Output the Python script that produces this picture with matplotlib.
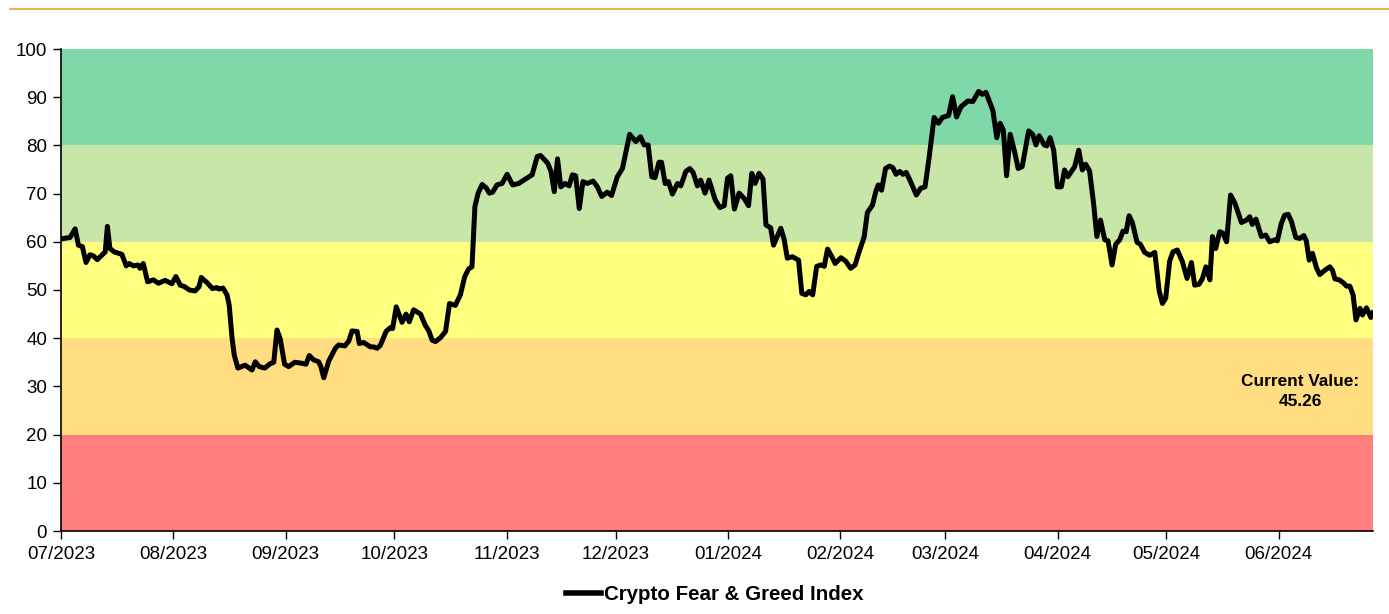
import matplotlib
matplotlib.use("Agg")
import matplotlib.pyplot as plt
import matplotlib.dates as mdates
from matplotlib.lines import Line2D
import pandas as pd

plt.rcParams['font.family'] = ['Liberation Sans', 'DejaVu Sans']

start_date = "2023-07-01"
end_date = "2024-06-27"

# day offsets from start_date
day_offsets = [
    0, 2.5, 3.9, 4.8, 5.9, 6.9, 8.0, 8.9, 10.0, 12.2, 12.8, 13.5, 14.7, 16.8, 18.0, 18.8,
    20.0, 21.2, 21.8, 22.7, 23.9, 25.5, 26.9, 28.7, 30.6, 31.7, 32.9, 34.1, 35.4, 37.0,
    38.1, 38.7, 40.2, 41.8, 43.0, 43.6, 44.7, 45.8, 46.4, 47.2, 47.8, 48.8, 50.8, 52.7,
    53.6, 54.7, 56.2, 57.7, 58.7, 59.6, 60.5, 61.7, 62.8, 64.5, 66.5, 67.6, 68.5, 69.7,
    71.1, 71.7, 72.5, 73.9, 75.7, 76.6, 78.3, 79.4, 80.3, 81.7, 82.3, 83.5, 85.4, 86.3,
    87.2, 88.1, 89.7, 90.9, 91.5, 92.5, 94.1, 95.2, 96.1, 97.3, 99.2, 100.5, 101.5,
    102.4, 103.3, 104.7, 106.1, 107.2, 108.8, 110.2, 111.4, 112.5, 113.4, 114.2, 115.1,
    116.2, 117.3, 118.2, 119.1, 120.3, 121.7, 123.1, 124.6, 126.3, 127.7, 130.0, 131.4,
    132.3, 134.3, 135.2, 136.1, 137.0, 137.9, 139.1, 140.2, 141.1, 142.0, 143.0, 144.0,
    145.2, 146.8, 148.0, 149.2, 150.7, 151.9, 153.5, 154.9, 156.9, 158.6, 159.9, 160.9,
    162.0, 163.0, 163.9, 165.0, 165.7, 166.7, 167.6, 168.7, 170.1, 171.0, 172.4, 173.5,
    174.4, 175.6, 176.5, 177.7, 178.8, 180.5, 181.8, 183.0, 183.9, 184.8, 185.8, 187.1,
    188.5, 189.7, 190.6, 191.5, 192.6, 193.7, 194.5, 195.8, 196.6, 197.2, 198.6, 199.5,
    200.4, 201.8, 203.5, 204.4, 205.5, 206.4, 207.4, 208.5, 209.7, 210.6, 211.5, 212.7,
    213.6, 215.2, 216.5, 217.9, 219.1, 220.2, 221.6, 222.5, 223.9, 224.8, 225.5, 226.4,
    227.5, 228.6, 229.5, 230.4, 231.4, 232.3, 233.2, 234.4, 236.0, 237.2, 238.4, 239.5,
    240.9, 242.1, 243.2, 244.9, 246.0, 247.1, 248.3, 250.2, 251.6, 253.2, 254.2, 255.2,
    257.1, 258.2, 259.1, 260.0, 260.9, 261.9, 263.1, 264.1, 265.2, 267.0, 268.1, 269.0,
    269.9, 271.3, 272.0, 272.9, 273.9, 274.9, 276.0, 276.9, 277.8, 279.7, 280.8, 281.8,
    282.7, 283.8, 284.9, 285.8, 286.8, 288.0, 288.9, 290.0, 291.0, 292.1, 293.0, 293.9,
    294.7, 295.6, 296.9, 297.8, 299.0, 300.4, 301.8, 303.0, 303.9, 304.8, 305.9, 306.8,
    308.0, 309.4, 310.7, 311.9, 312.8, 314.0, 314.9, 315.9, 317.0, 317.7, 318.6, 319.7,
    320.6, 321.6, 322.7, 323.9, 325.7, 327.1, 328.0, 328.7, 329.7, 331.2, 332.4, 333.5,
    334.9, 335.6, 336.7, 337.6, 338.6, 339.5, 340.7, 341.8, 342.9, 343.6, 344.4, 345.3,
    346.4, 347.3, 348.7, 350.1, 350.8, 351.5, 352.7, 353.8, 354.7, 355.6, 356.5, 357.3,
    358.4, 359.1, 360.2, 361.4, 362.0,
]

index_values = [
    60.6, 60.9, 62.7, 59.3, 59.0, 55.7, 57.3, 57.1, 56.3, 57.9, 63.2, 58.6, 57.9, 57.4, 55.0, 55.5,
    55.0, 55.2, 54.5, 55.5, 51.7, 52.1, 51.4, 52.0, 51.3, 52.8, 51.0, 50.7, 50.0, 49.8,
    50.7, 52.6, 51.6, 50.3, 50.5, 50.2, 50.4, 49.0, 46.9, 40.0, 36.5, 33.8, 34.4, 33.4,
    35.1, 34.1, 33.8, 34.7, 35.0, 41.7, 39.8, 34.6, 34.1, 35.0, 34.8, 34.6, 36.4, 35.5,
    35.1, 34.1, 31.8, 35.3, 37.9, 38.6, 38.4, 39.4, 41.5, 41.4, 38.9, 39.1, 38.2, 38.2,
    37.9, 38.5, 41.4, 42.2, 42.0, 46.5, 43.3, 45.0, 43.4, 45.9, 45.0, 42.7, 41.5,
    39.6, 39.3, 40.1, 41.4, 47.2, 46.8, 49.0, 52.8, 54.4, 54.8, 67.3, 70.1,
    71.9, 71.2, 70.1, 70.3, 71.8, 72.1, 74.0, 71.8, 72.1, 72.8, 73.9, 77.7,
    77.9, 76.3, 74.6, 70.4, 77.2, 71.4, 72.1, 71.6, 73.9, 73.7, 66.9, 72.5,
    72.1, 72.6, 71.4, 69.4, 70.3, 69.6, 73.5, 75.2, 82.3, 80.8, 81.8, 80.1,
    80.1, 73.5, 73.3, 76.5, 76.5, 72.1, 72.5, 69.9, 72.1, 71.6, 74.6, 75.2,
    74.4, 71.6, 72.8, 70.1, 72.8, 68.7, 67.1, 67.5, 73.2, 73.7, 66.8, 70.1,
    69.0, 67.5, 74.2, 72.1, 74.2, 73.0, 63.5, 62.9, 59.3, 60.4, 62.8, 60.6,
    56.6, 56.9, 56.2, 49.3, 49.0, 49.7, 49.0, 54.9, 55.2, 54.9, 58.5, 56.9,
    55.5, 56.7, 56.0, 54.5, 55.2, 57.9, 61.0, 66.1, 67.6, 70.4, 71.8, 70.7,
    75.2, 75.7, 75.4, 74.0, 74.6, 74.0, 74.4, 72.5, 69.7, 71.1, 71.4, 77.3,
    85.8, 84.6, 85.8, 86.2, 90.1, 85.9, 88.0, 89.2, 89.1, 91.2, 90.6, 91.0,
    87.3, 81.6, 84.6, 83.2, 73.7, 82.3, 78.7, 75.2, 75.6, 83.0, 82.3, 80.1,
    82.0, 80.1, 79.9, 81.6, 79.0, 71.4, 71.4, 74.9, 73.5, 75.6, 79.0, 74.9,
    76.1, 74.7, 68.0, 61.1, 64.5, 60.4, 60.2, 55.2, 59.5, 60.4, 62.2, 62.1,
    65.4, 64.0, 59.9, 59.5, 57.8, 57.2, 57.8, 49.8, 47.2, 48.3, 56.0, 57.9,
    58.3, 55.9, 52.4, 55.7, 51.0, 51.2, 52.3, 54.8, 52.1, 61.1, 58.6, 62.1,
    61.8, 60.0, 69.7, 68.0, 64.0, 64.5, 65.2, 63.6, 64.7, 61.1, 61.4, 60.0,
    60.4, 60.2, 63.8, 65.5, 65.7, 64.2, 60.9, 60.7, 61.3, 60.2, 56.2, 57.6,
    54.6, 53.2, 54.1, 54.8, 54.1, 52.3, 52.1, 51.5, 50.8, 50.8, 49.0, 43.8,
    46.2, 44.8, 46.3, 44.3, 45.26,
]

band_edges = [0, 20, 40, 60, 80, 100]
band_colors = ['#FF7F7F', '#FFDD80', '#FFFF80', '#C9E6A9', '#80D7A8']

series_label = "Crypto Fear & Greed Index"
current_label = "Current Value:"
current_value = 45.26
annot_date = "2024-06-07"
annot_y = 28.9

dates = pd.Timestamp(start_date) + pd.to_timedelta(day_offsets, unit='D')

fig = plt.figure(figsize=(13.89, 6.14), dpi=100)
ax = fig.add_axes([61/1389, 1-531/614, (1373-61)/1389, (531-49)/614])

for lo, hi, c in zip(band_edges[:-1], band_edges[1:], band_colors):
    ax.axhspan(lo, hi, color=c, lw=0, zorder=0)

ax.plot(dates, index_values, color='black', lw=3.6, solid_joinstyle='round', zorder=3)

ax.set_xlim(pd.Timestamp(start_date), pd.Timestamp(end_date))
ax.set_ylim(0, 100)
ax.set_yticks(range(0, 101, 10))
ax.xaxis.set_major_locator(mdates.MonthLocator())
ax.xaxis.set_major_formatter(mdates.DateFormatter('%m/%Y'))
ax.tick_params(axis='both', direction='out', length=6, width=1, colors='black',
               labelsize=13.5, labelcolor='black')
ax.tick_params(axis='y', pad=4)
ax.tick_params(axis='x', pad=5)
for s in ['top', 'right']:
    ax.spines[s].set_visible(False)
for s in ['left', 'bottom']:
    ax.spines[s].set_color('black')
    ax.spines[s].set_linewidth(1.2)

ax.text(pd.Timestamp(annot_date), annot_y, f"{current_label}\n{current_value:.2f}",
        ha='center', va='center', fontsize=12.4, fontweight='bold', linespacing=1.4, zorder=4)

handle = Line2D([], [], color='black', lw=4)
fig.legend([handle], [series_label], loc='center', bbox_to_anchor=(715/1389, 1-595/614),
           frameon=False, handlelength=1.7, handletextpad=0.15,
           prop={'weight': 'bold', 'size': 14.8})

fig.add_artist(Line2D([10/1389, 1], [1-9/614, 1-9/614], color='#E0A820', lw=1.2))

fig.savefig('out.png', dpi=100)
